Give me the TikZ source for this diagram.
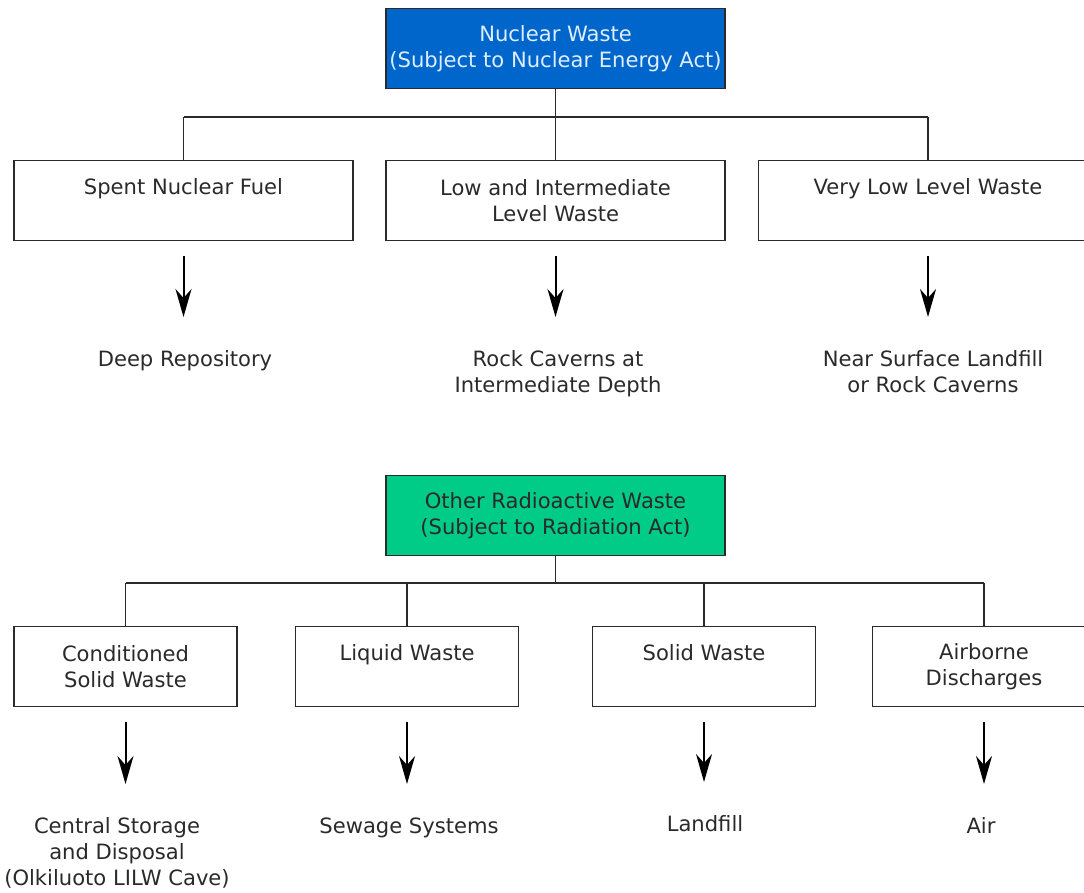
\documentclass[tikz,border=0pt]{standalone}
\usepackage{fontspec}
\setmainfont{DejaVu Sans}
\usetikzlibrary{arrows.meta}
\definecolor{nucblue}{HTML}{0066CC}
\definecolor{radgreen}{HTML}{00CC88}
\definecolor{edgegrey}{HTML}{2A2A2A}
\definecolor{paleblue}{HTML}{DDEEFF}

\begin{document}
\begin{tikzpicture}[x=0.02cm,y=-0.02cm,
  every node/.style={font=\fontsize{12}{14.7}\selectfont, align=center, text=edgegrey},
  box/.style={draw=edgegrey, line width=0.035cm, minimum height=1.6cm, inner xsep=0pt},
  wide/.style={box, minimum width=6.78cm},
  narrow/.style={box, minimum width=4.46cm},
  oneline/.style={text depth=16pt},
  link/.style={draw=edgegrey, line width=0.035cm},
  arr/.style={-{Stealth[length=0.56cm,width=0.32cm,inset=0.18cm]}, line width=0.04cm,
    shorten <=0.3cm, shorten >=0.66cm},
  sink/.style={anchor=north, inner sep=0pt}]
  \clip (0,0) rectangle (1084,892);

  % nuclear energy act
  \node[wide, fill=nucblue, text=paleblue] (nw) at (555.5,48.5)
    {Nuclear Waste\\(Subject to Nuclear Energy Act)};
  \node[wide, oneline] (snf) at (183.5,200.5) {Spent Nuclear Fuel};
  \node[wide] (lilw) at (555.5,200.5) {Low and Intermediate\\Level Waste};
  \node[wide, oneline] (vllw) at (928,200.5) {Very Low Level Waste};
  \coordinate (bus1) at (554,117);
  \draw[link] (nw.south) -- (nw.south |- bus1);
  \draw[link] (bus1 -| snf.north) -- (bus1 -| vllw.north);
  \foreach \b in {snf,lilw,vllw}
    \draw[link] (bus1 -| \b.north) -- (\b.north);

  \node[sink] (deep) at (185,350) {Deep Repository};
  \node[sink] (rock) at (558,350) {Rock Caverns at\\Intermediate Depth};
  \node[sink] (near) at (933,350) {Near Surface Landfill\\or Rock Caverns};
  \foreach \a/\b in {snf/deep,lilw/rock,vllw/near}
    \draw[arr] (\a.south) -- (\a.south |- \b.north);

  % radiation act
  \node[wide, fill=radgreen] (orw) at (555.5,515.5)
    {Other Radioactive Waste\\(Subject to Radiation Act)};
  \node[narrow] (csw) at (125.5,666.5) {Conditioned\\Solid Waste};
  \node[narrow, oneline] (liq) at (407,666.5) {Liquid Waste};
  \node[narrow, oneline] (sol) at (704,666.5) {Solid Waste};
  \node[narrow] (air) at (984,666.5) {Airborne\\Discharges};
  \coordinate (bus2) at (554,583);
  \draw[link] (orw.south) -- (orw.south |- bus2);
  \draw[link] (bus2 -| csw.north) -- (bus2 -| air.north);
  \foreach \b in {csw,liq,sol,air}
    \draw[link] (bus2 -| \b.north) -- (\b.north);

  \node[sink] (central) at (117,817) {Central Storage\\and Disposal\\(Olkiluoto LILW Cave)};
  \node[sink] (sewage) at (409,817) {Sewage Systems};
  \node[sink] (landfill) at (705,815) {Landfill};
  \node[sink] (atmo) at (981,817) {Air};
  \foreach \a/\b in {csw/central,liq/sewage,sol/landfill,air/atmo}
    \draw[arr] (\a.south) -- (\a.south |- \b.north);
\end{tikzpicture}
\end{document}
